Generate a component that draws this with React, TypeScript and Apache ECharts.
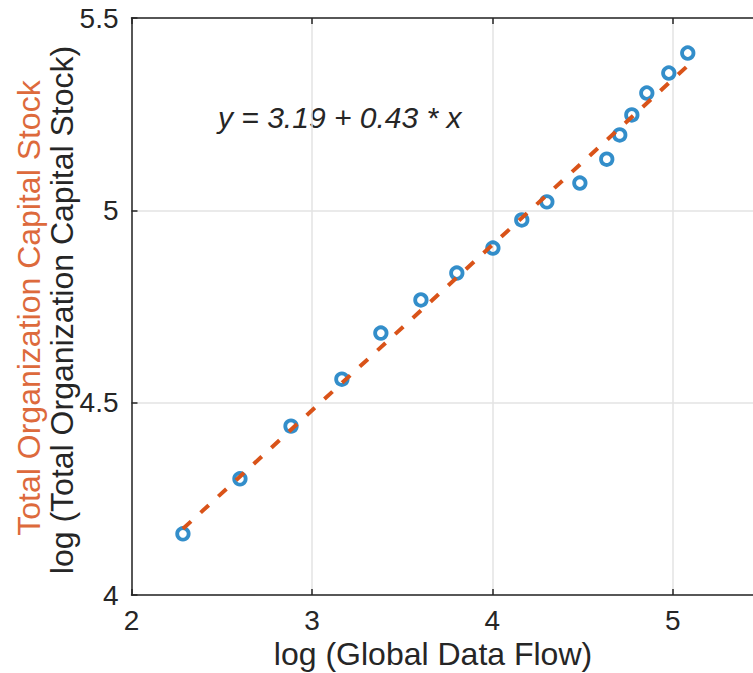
import React, { useEffect, useRef } from "react";
import * as echarts from "echarts";

const xData = [2.285, 2.601, 2.884, 3.166, 3.382, 3.604, 3.803, 4.003, 4.163, 4.302, 4.485, 4.634, 4.706, 4.773, 4.856, 4.978, 5.083];
const yData = [4.159, 4.302, 4.439, 4.561, 4.681, 4.767, 4.837, 4.902, 4.975, 5.022, 5.071, 5.133, 5.196, 5.248, 5.305, 5.357, 5.409];
const fitX = [2.285, 5.083];
const fitY = [4.172, 5.376];
const xTickLabels = ["2", "3", "4", "5"];
const equationText = "y = 3.19 + 0.43 * x";
const xTitle = "log (Global Data Flow)";
const yTitle = "log (Total Organization Capital Stock)";
const yTitle2 = "Total Organization Capital Stock";

const FONT = "'Liberation Sans', Arial, Helvetica, sans-serif";
const AXIS = "#262626";

export default function App() {
  const ref = useRef<HTMLDivElement>(null);
  useEffect(() => {
    if (!ref.current) return;
    const chart = echarts.init(ref.current, null, { renderer: "svg" });
    chart.setOption({
      animation: false,
      backgroundColor: "#ffffff",
      grid: {
        left: 131.5,
        top: 18,
        width: 631.5,
        height: 577,
        containLabel: false,
        outerBoundsMode: "none",
      },
      xAxis: [
        {
          type: "value",
          min: 2,
          max: 5.5,
          interval: 1,
          position: "bottom",
          axisLine: { show: true, onZero: false, lineStyle: { color: AXIS, width: 1.5 } },
          axisTick: { show: true, inside: true, length: 6, lineStyle: { color: AXIS, width: 1.5 } },
          axisLabel: {
            fontFamily: FONT,
            fontSize: 28,
            lineHeight: 24,
            color: AXIS,
            margin: 13,
            showMaxLabel: false,
            formatter: (v: number) => (xTickLabels.includes(String(v)) ? String(v) : ""),
          },
          splitLine: { show: true, lineStyle: { color: "#e3e3e3", width: 1.5 } },
        },
        {
          type: "value",
          min: 2,
          max: 5.5,
          interval: 1,
          position: "top",
          axisLine: { show: true, onZero: false, lineStyle: { color: AXIS, width: 1.5 } },
          axisTick: { show: true, inside: true, length: 6, lineStyle: { color: AXIS, width: 1.5 } },
          axisLabel: { show: false },
          splitLine: { show: false },
        },
      ],
      yAxis: [
        {
          type: "value",
          min: 4,
          max: 5.5,
          interval: 0.5,
          position: "left",
          axisLine: { show: true, onZero: false, lineStyle: { color: AXIS, width: 1.5 } },
          axisTick: { show: true, inside: true, length: 6, lineStyle: { color: AXIS, width: 1.5 } },
          axisLabel: { fontFamily: FONT, fontSize: 28, color: AXIS, margin: 13 },
          splitLine: { show: true, lineStyle: { color: "#e3e3e3", width: 1.5 } },
        },
      ],
      series: [
        {
          type: "scatter",
          data: xData.map((x, i) => [x, yData[i]]),
          symbol: "circle",
          symbolSize: 11.5,
          itemStyle: { color: "rgba(255,255,255,0)", borderColor: "#0072BD", borderWidth: 3.8 },
          z: 2,
        },
        {
          type: "line",
          data: fitX.map((x, i) => [x, fitY[i]]),
          showSymbol: false,
          symbol: "none",
          lineStyle: { color: "#D95319", width: 4, type: [11, 13] },
          z: 3,
        },
      ],
      graphic: [
        {
          type: "text",
          x: 218,
          y: 117,
          style: {
            text: equationText,
            fontFamily: FONT,
            fontSize: 30,
            fontStyle: "italic",
            fill: AXIS,
            align: "left",
            verticalAlign: "middle",
          },
        },
        {
          type: "text",
          x: 433,
          y: 654,
          style: {
            text: xTitle,
            fontFamily: FONT,
            fontSize: 32,
            lineHeight: 24,
            fill: AXIS,
            align: "center",
            verticalAlign: "middle",
          },
        },
        {
          type: "text",
          x: 62,
          y: 310,
          rotation: Math.PI / 2,
          style: {
            text: yTitle,
            fontFamily: FONT,
            fontSize: 32,
            fill: AXIS,
            align: "center",
            verticalAlign: "middle",
          },
        },
        {
          type: "text",
          x: 29,
          y: 308,
          rotation: Math.PI / 2,
          style: {
            text: yTitle2,
            fontFamily: FONT,
            fontSize: 32,
            fill: "#DD6A3C",
            align: "center",
            verticalAlign: "middle",
          },
        },
      ],
    });
    return () => chart.dispose();
  }, []);
  return (
    <div
      ref={ref}
      style={{ position: "fixed", left: 0, top: 0, width: 753, height: 673, background: "#fff" }}
    />
  );
}
